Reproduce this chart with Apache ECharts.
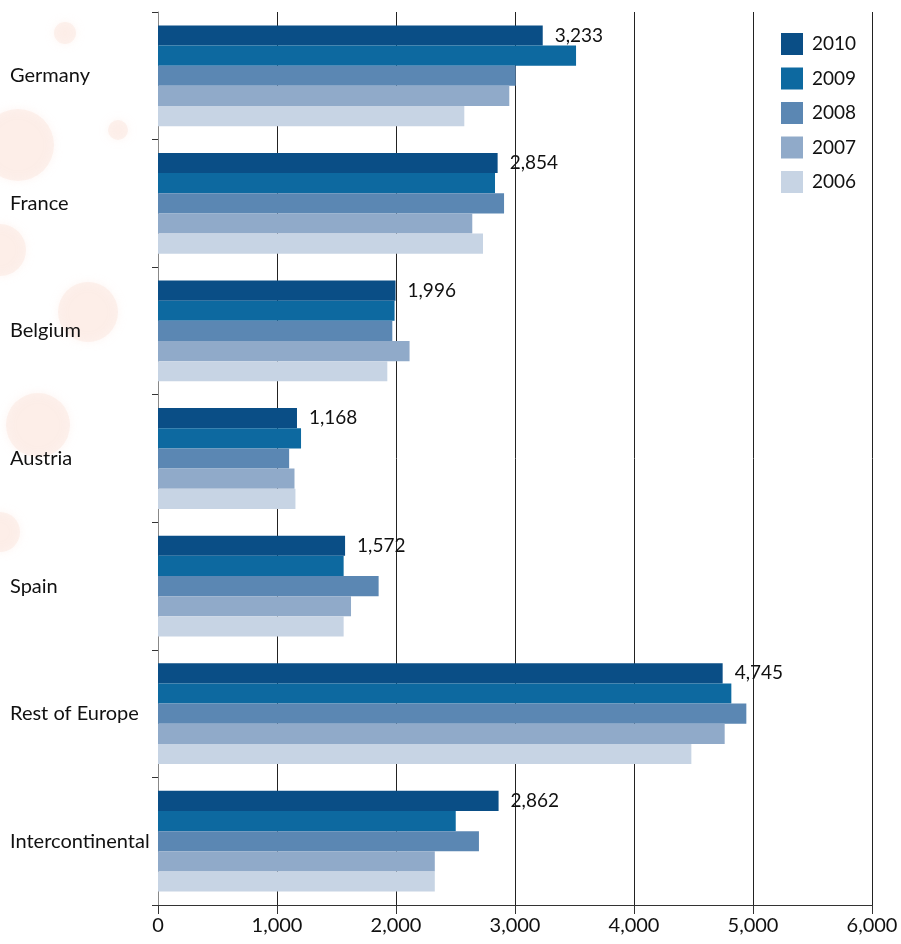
<!DOCTYPE html>
<html>
<head>
<meta charset="utf-8">
<script src="https://cdn.jsdelivr.net/npm/echarts@6/dist/echarts.min.js"></script>
<style>
  html, body { margin: 0; padding: 0; background: #fff; }
  #chart { width: 901px; height: 944px; }
</style>
</head>
<body>
<div id="chart"></div>
<script>
// Regions, top to bottom
const regions = ['Germany', 'France', 'Belgium', 'Austria', 'Spain', 'Rest of Europe', 'Intercontinental'];

// Yearly values per region
const years = ['2010', '2009', '2008', '2007', '2006'];
const v2010 = [3233, 2854, 1996, 1168, 1572, 4745, 2862];
const v2009 = [3513, 2832, 1988, 1202, 1560, 4818, 2502];
const v2008 = [3006, 2908, 1969, 1102, 1854, 4944, 2697];
const v2007 = [2952, 2641, 2114, 1147, 1622, 4762, 2326];
const v2006 = [2574, 2731, 1927, 1155, 1560, 4482, 2326];
const xTicks = [0, 1000, 2000, 3000, 4000, 5000, 6000];

const seriesValues = [v2010, v2009, v2008, v2007, v2006];
const colors = ['#0a4e86', '#0d69a0', '#5b87b3', '#90aac9', '#c7d4e4'];
const font = 'Lato, "Open Sans", sans-serif';
const fs = 20;

const chart = echarts.init(document.getElementById('chart'));

// soft decorative dots on the left margin
const dots = [[65, 33, 11], [18, 145, 36], [118, 130, 10], [0, 250, 26], [88, 312, 30], [38, 425, 32], [0, 532, 20]];

chart.setOption({
  animation: false,
  color: colors,
  textStyle: { fontFamily: font },
  graphic: dots.map(d => ({
    type: 'circle', z: -10, silent: true,
    shape: { cx: d[0], cy: d[1], r: d[2] },
    style: { fill: '#fbe4dc', opacity: 0.45, shadowBlur: 8, shadowColor: 'rgba(251,228,220,0.8)' }
  })),
  grid: { left: 158, right: 29, top: 12, bottom: 39 },
  legend: {
    data: years,
    orient: 'vertical',
    left: 776, top: 28,
    itemWidth: 22, itemHeight: 22, itemGap: 12.5,
    icon: 'rect',
    backgroundColor: '#fff',
    textStyle: { fontSize: 19, color: '#111', fontFamily: font, padding: [0, 0, 0, 4] }
  },
  xAxis: {
    type: 'value',
    min: 0, max: 6000, interval: 1000,
    axisLine: { show: true, lineStyle: { color: '#333' } },
    axisTick: { show: true, length: 9, lineStyle: { color: '#333' } },
    axisLabel: {
      fontSize: fs, color: '#111', margin: 11,
      formatter: v => xTicks.includes(v) ? v.toLocaleString('en-US') : ''
    },
    splitLine: { show: true, lineStyle: { color: '#222', width: 1 } }
  },
  yAxis: {
    type: 'category',
    data: regions,
    inverse: true,
    axisLine: { show: true, lineStyle: { color: '#888' } },
    axisTick: { show: true, length: 6, lineStyle: { color: '#333' } },
    axisLabel: { fontSize: fs, color: '#111', align: 'left', margin: 148 },
    splitLine: { show: false }
  },
  series: years.map((y, i) => ({
    name: y,
    type: 'bar',
    data: seriesValues[i],
    barCategoryGap: '21%',
    barGap: '0%',
    itemStyle: { color: colors[i] },
    label: i === 0 ? {
      show: true, position: 'right', distance: 12,
      fontSize: 19, color: '#111', fontFamily: font,
      formatter: p => p.value.toLocaleString('en-US')
    } : { show: false }
  }))
});
</script>
</body>
</html>
